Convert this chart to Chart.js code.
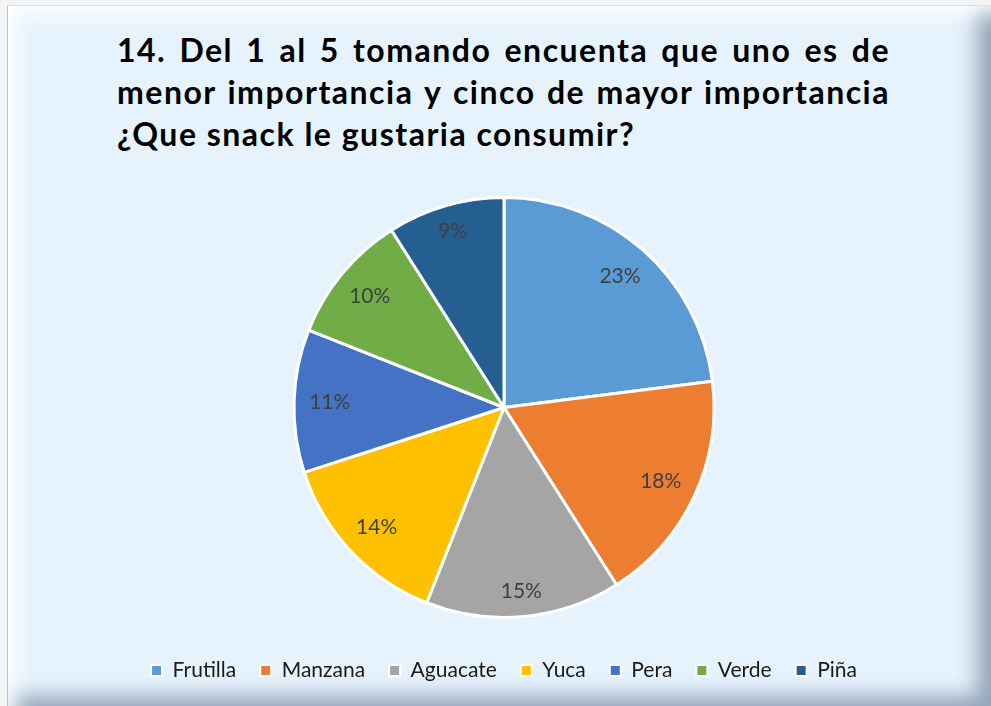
<!DOCTYPE html>
<html>
<head>
<meta charset="utf-8">
<script src="https://cdn.jsdelivr.net/npm/chart.js@4.4.1/dist/chart.umd.min.js"></script>
<style>
  html, body { margin: 0; padding: 0; background: #f3f4f5; }
  body { width: 991px; height: 706px; position: relative; overflow: hidden; font-family: Lato, sans-serif; }
  .frame {
    position: absolute; left: 7px; top: 5px; right: 0; bottom: 0;
    background: #E6F3FC;
    border-left: 1px solid #c4c8cd; border-top: 1px solid #dcdfe2;
    box-shadow: inset 22px 22px 20px -14px rgba(255,255,255,0.95),
                inset -24px -20px 20px -10px rgba(70,90,120,0.5);
  }
  .title {
    position: absolute; left: 117px; top: 29px; width: 773px;
    font: bold 32px Lato, sans-serif; line-height: 42px; letter-spacing: 1.5px; color: #000;
  }
  .title div { white-space: nowrap; }
  .title .just { text-align: justify; text-align-last: justify; }
  .chart-box { position: absolute; left: 17px; top: 179px; width: 974px; height: 512px; }
</style>
</head>
<body>
<div class="frame"></div>
<div class="title">
  <div class="just">14. Del 1 al 5 tomando encuenta que uno es de</div>
  <div class="just">menor importancia y cinco de mayor importancia</div>
  <div>¿Que snack le gustaria consumir?</div>
</div>
<div class="chart-box"><canvas id="snackChart"></canvas></div>
<script>
const snacks = ['Frutilla', 'Manzana', 'Aguacate', 'Yuca', 'Pera', 'Verde', 'Piña'];
const shares = [23, 18, 15, 14, 11, 10, 9];
const sliceColors = ['#5B9BD5', '#ED7D31', '#A5A5A5', '#FFC000', '#4472C4', '#70AD47', '#255E91'];

// labels sit inside each slice, pushed out until the text box nearly touches the rim
const sliceLabels = {
    id: 'sliceLabels',
    afterDatasetsDraw(chart) {
        const ctx = chart.ctx;
        const meta = chart.getDatasetMeta(0);
        const size = 21;
        ctx.save();
        ctx.font = size + 'px Lato';
        ctx.fillStyle = '#404040';
        ctx.textAlign = 'center';
        ctx.textBaseline = 'middle';
        meta.data.forEach((arc, i) => {
            const p = arc.getProps(['x', 'y', 'startAngle', 'endAngle', 'outerRadius']);
            const text = shares[i] + '%';
            const mid = (p.startAngle + p.endAngle) / 2;
            const c = Math.cos(mid), s = Math.sin(mid);
            const a = Math.sign(c) * ctx.measureText(text).width / 2;
            const b = Math.sign(s) * size * 0.38;
            const T = p.outerRadius * 0.93;
            const k = c * a + s * b;
            const d = -k + Math.sqrt(k * k - (a * a + b * b - T * T));
            ctx.fillText(text, p.x + c * d, p.y + s * d);
        });
        ctx.restore();
    }
};

new Chart(document.getElementById('snackChart'), {
    type: 'pie',
    data: {
        labels: snacks,
        datasets: [{
            data: shares,
            backgroundColor: sliceColors,
            borderColor: '#ffffff',
            borderWidth: 3,
            radius: 210
        }]
    },
    options: {
        responsive: true,
        maintainAspectRatio: false,
        animation: false,
        layout: { padding: 0 },
        plugins: {
            title: { display: false },
            tooltip: { enabled: false },
            legend: {
                position: 'bottom',
                labels: {
                    boxWidth: 11,
                    boxHeight: 11,
                    padding: 24,
                    color: '#1a1a1a',
                    font: { family: 'Lato', size: 21 },
                    generateLabels: (chart) => {
                        const items = Chart.controllers.pie.overrides.plugins.legend.labels.generateLabels(chart);
                        items.forEach(it => { it.lineWidth = 2; it.strokeStyle = '#ffffff'; });
                        return items;
                    }
                }
            }
        }
    },
    plugins: [sliceLabels]
});
</script>
</body>
</html>
